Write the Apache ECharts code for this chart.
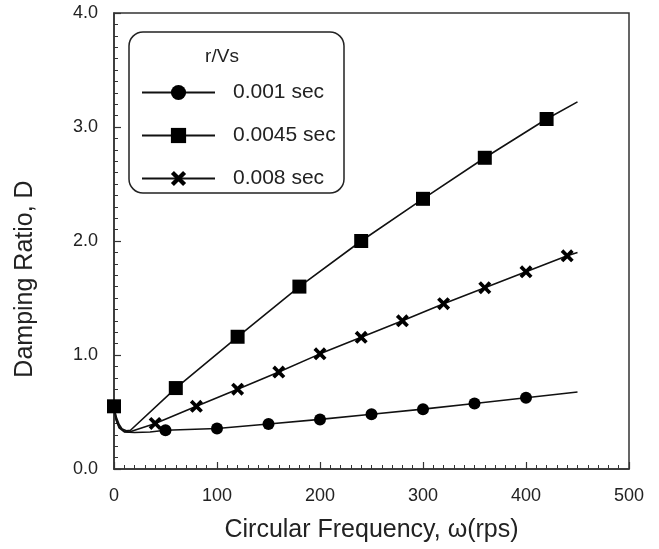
<!DOCTYPE html>
<html lang="en">
<head>
  <meta charset="UTF-8" />
  <title>Damping Ratio vs Circular Frequency</title>
  <script src="https://cdn.jsdelivr.net/npm/echarts@6/dist/echarts.min.js"></script>
  <style>
    html, body, #main {
      margin: 0; padding: 0; width: 100%; height: 100%;
      background: #fff;
      font-family: "Liberation Sans", Arial, sans-serif;
    }
  </style>
</head>
<body>
  <div id="main"></div>
  <script>
    const chart = echarts.init(document.getElementById('main'));

    const seriesNames = ['0.001 sec', '0.0045 sec', '0.008 sec'];

    // marker points [omega, D]
    const circleMarks = [[50, 0.34], [100, 0.355], [150, 0.395], [200, 0.435], [250, 0.48], [300, 0.525], [350, 0.575], [400, 0.625]];
    const squareMarks = [[0, 0.55], [60, 0.71], [120, 1.16], [180, 1.60], [240, 2.0], [300, 2.37], [360, 2.73], [420, 3.07]];
    const crossMarks = [[40, 0.40], [80, 0.55], [120, 0.70], [160, 0.85], [200, 1.01], [240, 1.155], [280, 1.30], [320, 1.45], [360, 1.59], [400, 1.73], [440, 1.87]];

    // line-only points (no marker)
    const circleCurve = [[0, 0.55], [2, 0.43], [5, 0.36], [10, 0.325], [20, 0.32], [35, 0.325], [450, 0.675]];
    const squareCurve = [[2, 0.46], [5, 0.39], [8, 0.35], [12, 0.335], [16, 0.34], [450, 3.22]];
    const crossCurve = [[0, 0.55], [2, 0.44], [5, 0.37], [10, 0.33], [15, 0.325], [20, 0.34], [450, 1.90]];

    const crossPath = 'path://M0,2 L2,0 L5,3 L8,0 L10,2 L7,5 L10,8 L8,10 L5,7 L2,10 L0,8 L3,5 Z';

    function buildData(marks, curve) {
      const pts = marks.map(p => ({ value: p }))
        .concat(curve.map(p => ({ value: p, symbol: 'none' })));
      pts.sort((a, b) => a.value[0] - b.value[0]);
      return pts;
    }

    const lineStyle = { color: '#111', width: 1.6 };

    chart.setOption({
      animation: false,
      grid: {
        left: 114, top: 13, right: 30, bottom: 80,
        show: true, borderColor: '#333', borderWidth: 1.5
      },
      legend: {
        left: 136,
        top: 77,
        orient: 'vertical',
        itemWidth: 73,
        itemHeight: 19,
        itemGap: 22,
        data: seriesNames,
        textStyle: {
          fontSize: 21,
          color: '#222',
          lineHeight: 21,
          padding: [0, 0, 0, 13],
          fontFamily: 'Liberation Sans'
        }
      },
      xAxis: {
        type: 'value',
        min: 0, max: 500, interval: 100,
        name: 'Circular Frequency, \u03c9(rps)',
        nameLocation: 'middle',
        nameGap: 49,
        nameTextStyle: { fontSize: 25, color: '#222', fontFamily: 'Liberation Sans' },
        axisLine: { lineStyle: { color: '#333', width: 1.5 } },
        axisTick: { inside: true, length: 7, lineStyle: { color: '#333', width: 1.2 } },
        minorTick: { show: true, splitNumber: 10, length: 4, lineStyle: { color: '#333', width: 1 } },
        splitLine: { show: false },
        axisLabel: { fontSize: 18, color: '#222', margin: 18, fontFamily: 'Liberation Sans' }
      },
      yAxis: {
        type: 'value',
        min: 0, max: 4, interval: 1,
        axisLine: { show: true, lineStyle: { color: '#333', width: 1.5 } },
        axisTick: { show: true, inside: true, length: 7, lineStyle: { color: '#333', width: 1.2 } },
        minorTick: { show: true, splitNumber: 10, length: 4, lineStyle: { color: '#333', width: 1 } },
        splitLine: { show: false },
        axisLabel: {
          fontSize: 18, color: '#222', margin: 16, fontFamily: 'Liberation Sans',
          formatter: v => v.toFixed(1)
        }
      },
      graphic: [
        {
          type: 'rect',
          shape: { x: 129, y: 32, width: 215, height: 161, r: 14 },
          style: { fill: 'none', stroke: '#222', lineWidth: 1.5 },
          silent: true
        },
        {
          type: 'text',
          x: 222, y: 57,
          style: {
            text: 'r/Vs', fontSize: 19, fill: '#222',
            fontFamily: 'Liberation Sans', align: 'center', verticalAlign: 'middle'
          }
        },
        {
          type: 'text',
          x: 25, y: 279,
          rotation: Math.PI / 2,
          style: {
            text: 'Damping Ratio, D', fontSize: 25, fill: '#222',
            fontFamily: 'Liberation Sans', align: 'center', verticalAlign: 'middle'
          }
        }
      ],
      series: [
        {
          name: seriesNames[0],
          type: 'line',
          symbol: 'circle',
          symbolSize: 12,
          showAllSymbol: true,
          itemStyle: { color: '#000' },
          lineStyle: lineStyle,
          data: buildData(circleMarks, circleCurve),
          z: 3
        },
        {
          name: seriesNames[1],
          type: 'line',
          symbol: 'rect',
          symbolSize: 14,
          showAllSymbol: true,
          itemStyle: { color: '#000' },
          lineStyle: lineStyle,
          data: buildData(squareMarks, squareCurve),
          z: 4
        },
        {
          name: seriesNames[2],
          type: 'line',
          symbol: crossPath,
          symbolSize: 13,
          showAllSymbol: true,
          itemStyle: { color: '#000' },
          lineStyle: lineStyle,
          data: buildData(crossMarks, crossCurve),
          z: 3
        }
      ]
    });
  </script>
</body>
</html>
